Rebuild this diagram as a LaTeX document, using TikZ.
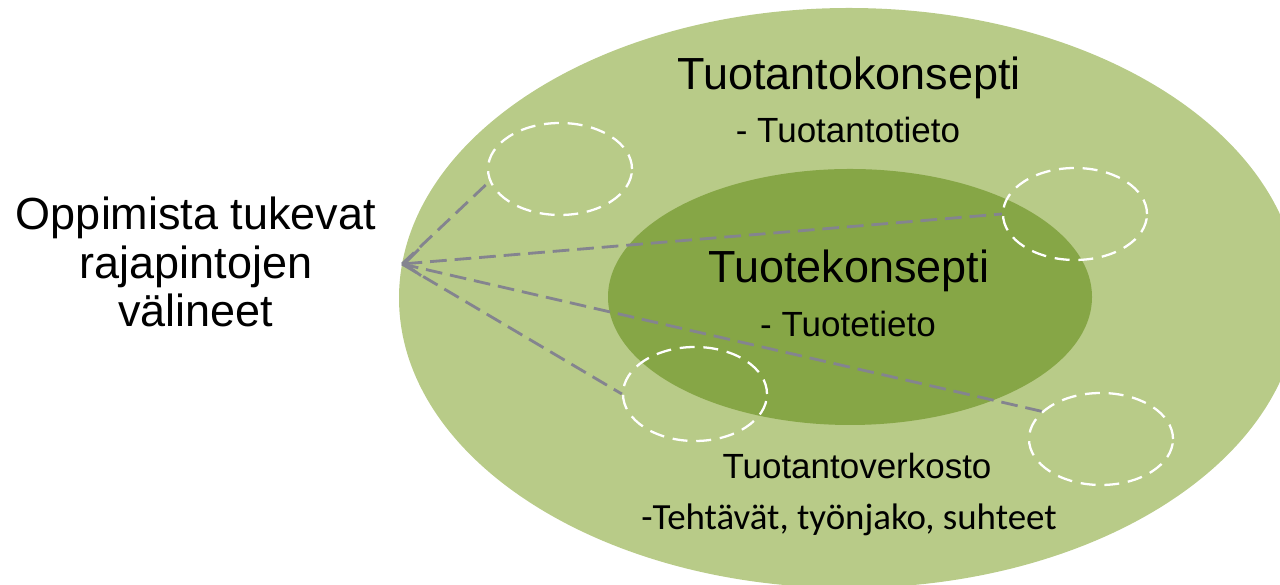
\documentclass[tikz,border=0pt]{standalone}
\usepackage{fontspec}
\setmainfont{Liberation Sans}
\newfontfamily\carlito{Carlito}
\usetikzlibrary{shapes.geometric,arrows.meta}
\definecolor{outergreen}{HTML}{B8CB88}
\definecolor{innergreen}{HTML}{86A646}
\definecolor{linegray}{HTML}{84848F}

\begin{document}
\begin{tikzpicture}[
        concept/.style={ellipse,inner sep=0pt},
        toolring/.style={ellipse,draw=white,line width=1.3pt,dash pattern=on 8.5pt off 5pt,inner sep=0pt,minimum width=2.88cm,minimum height=1.84cm},
        link/.style={draw=linegray,line width=1.6pt,dash pattern=on 9.5pt off 4.5pt},
        bigtext/.style={font=\fontsize{25.6}{28}\selectfont,anchor=base,inner sep=0pt},
        smalltext/.style={font=\fontsize{19.9}{22}\selectfont,anchor=base,inner sep=0pt},
        >={Straight Barb[length=9pt,width=15pt,line width=1.6pt]}
    ]
        % Draw frame
        \useasboundingbox (0,0) rectangle (25.6,11.7);
        \clip (0,0) rectangle (25.6,11.7);
        % Draw concept ellipses
        \node[concept,fill=outergreen,minimum width=18cm,minimum height=11.6cm] (production) at (16.98,5.74) {};
        \node[concept,fill=innergreen,minimum width=9.68cm,minimum height=5.12cm] (product) at (17.0,5.76) {};
        % Draw interface rings
        \node[toolring] (ring1) at (11.2,8.32) {};
        \node[toolring] (ring2) at (21.5,7.42) {};
        \node[toolring,minimum height=1.88cm] (ring3) at (13.9,3.82) {};
        \node[toolring] (ring4) at (22.02,2.92) {};
        % Draw links to the rings
        \coordinate (tools) at (8.04,6.42);
        \draw[link] (tools) -- (ring1.190);
        \draw[link,<-] (tools) -- (ring2.west);
        \draw[link] (tools) -- (ring3.west);
        \draw[link] (tools) -- (ring4.155);
        % Draw text
        \node[align=center,inner sep=0pt,font=\fontsize{25.6}{27.6}\selectfont] (toolstext) at (3.92,6.46) {Oppimista tukevat\\rajapintojen\\välineet};
        \node[bigtext] (prodconcept) at (16.98,9.9) {Tuotantokonsepti};
        \node[smalltext] (prodinfo) at (16.96,8.84) {- Tuotantotieto};
        \node[bigtext] (itemconcept) at (16.98,6.04) {Tuotekonsepti};
        \node[smalltext] (iteminfo) at (16.96,4.96) {- Tuotetieto};
        \node[smalltext] (network) at (17.14,2.12) {Tuotantoverkosto};
        \node[anchor=base,inner sep=0pt,font=\carlito\fontsize{21}{24}\selectfont] (networkinfo) at (16.98,1.1) {-Tehtävät, työnjako, suhteet};
    \end{tikzpicture}
\end{document}
